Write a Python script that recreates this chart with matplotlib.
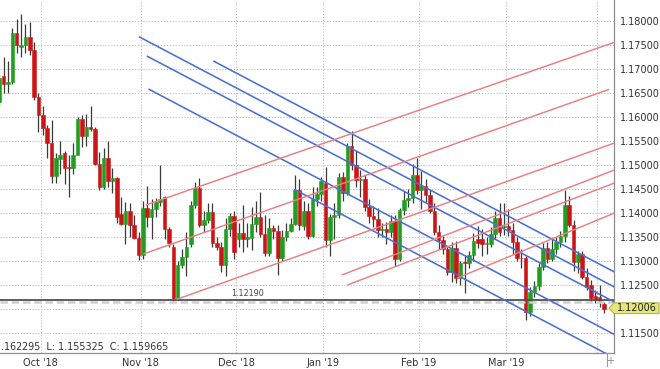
import matplotlib
matplotlib.use('Agg')
import matplotlib.pyplot as plt
from matplotlib.patches import Polygon
import numpy as np

# ---------------- data ----------------
opens = [1.1632, 1.1686, 1.1669, 1.1672, 1.1775, 1.1746, 1.1750, 1.1766, 1.1740, 1.1641,
         1.1604, 1.1578, 1.1546, 1.1478, 1.1512, 1.1525, 1.1496, 1.1494, 1.1521, 1.1596,
         1.1560, 1.1579, 1.1575, 1.1502, 1.1454, 1.1515, 1.1466, 1.1472, 1.1397, 1.1377,
         1.1404, 1.1375, 1.1348, 1.1313, 1.1410, 1.1392, 1.1408, 1.1423, 1.1433, 1.1367,
         1.1330, 1.1222, 1.1292, 1.1308, 1.1335, 1.1417, 1.1452, 1.1375, 1.1385, 1.1402,
         1.1337, 1.1329, 1.1292, 1.1367, 1.1394, 1.1346, 1.1358, 1.1346, 1.1348, 1.1377,
         1.1392, 1.1356, 1.1317, 1.1369, 1.1362, 1.1306, 1.1350, 1.1362, 1.1377, 1.1448,
         1.1372, 1.1405, 1.1353, 1.1430, 1.1440, 1.1462, 1.1343, 1.1392, 1.1395, 1.1474,
         1.1442, 1.1540, 1.1501, 1.1468, 1.1470, 1.1412, 1.1394, 1.1388, 1.1364, 1.1367,
         1.1361, 1.1383, 1.1305, 1.1406, 1.1428, 1.1432, 1.1480, 1.1448, 1.1456, 1.1437,
         1.1405, 1.1361, 1.1343, 1.1325, 1.1278, 1.1327, 1.1265, 1.1298, 1.1295, 1.1313,
         1.1345, 1.1345, 1.1335, 1.1335, 1.1356, 1.1389, 1.1371, 1.1372, 1.1364, 1.1340,
         1.1307, 1.1306, 1.1193, 1.1235, 1.1247, 1.1288, 1.1328, 1.1305, 1.1325, 1.1340,
         1.1352, 1.1416, 1.1375, 1.1298, 1.1314, 1.1266, 1.1250, 1.1227, 1.1224, 1.1210]
highs = [1.1690, 1.1724, 1.1717, 1.1785, 1.1804, 1.1815, 1.1794, 1.1797, 1.1757, 1.1650,
         1.1623, 1.1584, 1.1594, 1.1525, 1.1550, 1.1530, 1.1520, 1.1546, 1.1600, 1.1604,
         1.1606, 1.1623, 1.1580, 1.1527, 1.1535, 1.1550, 1.1494, 1.1476, 1.1433, 1.1423,
         1.1420, 1.1395, 1.1360, 1.1425, 1.1456, 1.1430, 1.1432, 1.1500, 1.1436, 1.1370,
         1.1335, 1.1300, 1.1325, 1.1360, 1.1425, 1.1465, 1.1473, 1.1405, 1.1420, 1.1420,
         1.1350, 1.1340, 1.1390, 1.1400, 1.1405, 1.1380, 1.1417, 1.1380, 1.1412, 1.1425,
         1.1444, 1.1395, 1.1390, 1.1375, 1.1375, 1.1365, 1.1380, 1.1390, 1.1480, 1.1470,
         1.1425, 1.1420, 1.1455, 1.1455, 1.1475, 1.1495, 1.1398, 1.1420, 1.1484, 1.1486,
         1.1545, 1.1570, 1.1530, 1.1490, 1.1480, 1.1430, 1.1415, 1.1410, 1.1380, 1.1382,
         1.1395, 1.1395, 1.1410, 1.1445, 1.1450, 1.1502, 1.1514, 1.1488, 1.1470, 1.1447,
         1.1420, 1.1375, 1.1352, 1.1330, 1.1340, 1.1341, 1.1300, 1.1310, 1.1320, 1.1358,
         1.1372, 1.1367, 1.1350, 1.1370, 1.1405, 1.1420, 1.1420, 1.1408, 1.1380, 1.1350,
         1.1325, 1.1310, 1.1245, 1.1258, 1.1295, 1.1338, 1.1340, 1.1345, 1.1350, 1.1362,
         1.1448, 1.1435, 1.1385, 1.1320, 1.1320, 1.1285, 1.1260, 1.1240, 1.1250, 1.1215]
lows = [1.1625, 1.1650, 1.1650, 1.1668, 1.1733, 1.1725, 1.1733, 1.1729, 1.1636, 1.1569,
        1.1562, 1.1514, 1.1463, 1.1463, 1.1481, 1.1460, 1.1433, 1.1481, 1.1521, 1.1538,
        1.1540, 1.1570, 1.1500, 1.1448, 1.1450, 1.1455, 1.1442, 1.1379, 1.1375, 1.1335,
        1.1350, 1.1345, 1.1302, 1.1305, 1.1370, 1.1345, 1.1392, 1.1415, 1.1345, 1.1330,
        1.1216, 1.1218, 1.1285, 1.1269, 1.1330, 1.1410, 1.1370, 1.1360, 1.1380, 1.1330,
        1.1322, 1.1277, 1.1269, 1.1352, 1.1305, 1.1330, 1.1319, 1.1330, 1.1323, 1.1360,
        1.1350, 1.1310, 1.1310, 1.1345, 1.1271, 1.1300, 1.1342, 1.1360, 1.1375, 1.1365,
        1.1365, 1.1345, 1.1350, 1.1415, 1.1425, 1.1330, 1.1310, 1.1345, 1.1390, 1.1425,
        1.1438, 1.1490, 1.1455, 1.1434, 1.1405, 1.1380, 1.1370, 1.1350, 1.1350, 1.1335,
        1.1350, 1.1290, 1.1300, 1.1395, 1.1412, 1.1420, 1.1440, 1.1409, 1.1423, 1.1400,
        1.1355, 1.1325, 1.1315, 1.1270, 1.1257, 1.1255, 1.1249, 1.1234, 1.1285, 1.1300,
        1.1328, 1.1310, 1.1315, 1.1330, 1.1345, 1.1352, 1.1355, 1.1352, 1.1315, 1.1300,
        1.1285, 1.1177, 1.1185, 1.1225, 1.1240, 1.1282, 1.1295, 1.1300, 1.1315, 1.1330,
        1.1340, 1.1370, 1.1280, 1.1275, 1.1262, 1.1240, 1.1215, 1.1212, 1.1205, 1.1192]
closes = [1.1681, 1.1669, 1.1672, 1.1776, 1.1750, 1.1749, 1.1766, 1.1740, 1.1641, 1.1604,
          1.1578, 1.1546, 1.1478, 1.1515, 1.1521, 1.1494, 1.1494, 1.1521, 1.1596, 1.1560,
          1.1579, 1.1575, 1.1502, 1.1454, 1.1515, 1.1466, 1.1472, 1.1392, 1.1377, 1.1404,
          1.1375, 1.1348, 1.1313, 1.1410, 1.1392, 1.1408, 1.1423, 1.1430, 1.1367, 1.1337,
          1.1222, 1.1292, 1.1308, 1.1329, 1.1417, 1.1452, 1.1375, 1.1385, 1.1402, 1.1337,
          1.1329, 1.1292, 1.1367, 1.1394, 1.1319, 1.1358, 1.1346, 1.1350, 1.1377, 1.1392,
          1.1356, 1.1317, 1.1369, 1.1362, 1.1306, 1.1350, 1.1362, 1.1377, 1.1448, 1.1375,
          1.1405, 1.1353, 1.1430, 1.1440, 1.1467, 1.1343, 1.1392, 1.1395, 1.1474, 1.1442,
          1.1540, 1.1501, 1.1468, 1.1470, 1.1412, 1.1394, 1.1388, 1.1364, 1.1367, 1.1361,
          1.1383, 1.1305, 1.1406, 1.1428, 1.1432, 1.1480, 1.1448, 1.1456, 1.1437, 1.1405,
          1.1361, 1.1343, 1.1325, 1.1278, 1.1327, 1.1265, 1.1295, 1.1295, 1.1313, 1.1341,
          1.1338, 1.1335, 1.1337, 1.1356, 1.1389, 1.1361, 1.1372, 1.1364, 1.1340, 1.1307,
          1.1306, 1.1193, 1.1235, 1.1247, 1.1288, 1.1328, 1.1305, 1.1325, 1.1340, 1.1352,
          1.1416, 1.1375, 1.1298, 1.1314, 1.1267, 1.1246, 1.1223, 1.1219, 1.1214, 1.12006]

month_labels = ["Oct '18", "Nov '18", "Dec '18", "Jan '19", "Feb '19", "Mar '19", ""]
month_start_idx = [10, 33, 55, 75, 97, 117, 138]
price_ticks = [1.115, 1.120, 1.125, 1.130, 1.135, 1.140, 1.145, 1.150, 1.155,
               1.160, 1.165, 1.170, 1.175, 1.180]

# trend lines: (start index, start price, end index, end price)
blue_lines = [(49.2, 1.17167, 141.4, 1.12771),
              (32.1, 1.17673, 141.4, 1.12458),
              (33.9, 1.17271, 141.4, 1.12146),
              (34.3, 1.16583, 141.4, 1.11469),
              (67.8, 1.14494, 142.0, 1.10951)]
red_lines = [(33.72, 1.14167, 141.4, 1.17556),
             (33.10, 1.13146, 140.2, 1.16577),
             (40.78, 1.12202, 141.4, 1.15458),
             (78.70, 1.12708, 141.4, 1.14896),
             (80.00, 1.12500, 141.4, 1.14625),
             (105.15, 1.12640, 141.4, 1.14000)]

level_price = 1.12190
last_price = 1.12006
info_text = ".162295  L: 1.155325  C: 1.159665"

# ---------------- figure ----------------
W, H = 660, 369
fig = plt.figure(figsize=(W / 100, H / 100), dpi=100)
fig.patch.set_facecolor('white')
ax_w = 614 / W
ax_b = (H - 352.7) / H
ax = fig.add_axes([0, ax_b, ax_w, 1 - ax_b])
ax.set_facecolor('white')

ax.set_xlim(0.16, 141.3)
ax.set_ylim(1.11090, 1.184375)

# grid
grid_kw = dict(color='#b8b8b8', lw=0.7, ls=(0, (1.2, 1.8)), zorder=0)
for p in price_ticks:
    ax.axhline(p, **grid_kw)
for m in month_start_idx:
    ax.axvline(m - 0.5, **grid_kw)

# candles
idx = np.arange(len(opens))
o = np.array(opens); h = np.array(highs); l = np.array(lows); c = np.array(closes)
up = c >= o
green, red = '#1f9e1f', '#cc1517'
ax.vlines(idx, l, h, color='#3a3a3a', lw=0.9, zorder=2)
body = np.where(np.abs(c - o) < 0.00012, 0.00012 * np.where(up, 1, -1), c - o)
cols = np.where(up, green, red)
ax.bar(idx, body, bottom=o, width=0.82, color=cols, edgecolor=cols, lw=0.4, zorder=3)

# horizontal level
ax.axhline(level_price - 0.00045, color='#cfcfcf', lw=1.8, ls=(0, (3, 1.5)), zorder=4)
ax.axhline(level_price, color='#505050', lw=1.3, zorder=4)
ax.text(57, level_price + 0.0003, f"{level_price:.5f}", fontsize=5.8,
        color='#444444', va='bottom', ha='center', zorder=6)

# trend lines
for x0, y0, x1, y1 in blue_lines:
    ax.plot([x0, x1], [y0, y1], color='#4a6fd6', lw=1.15, zorder=5,
            solid_capstyle='butt')
for x0, y0, x1, y1 in red_lines:
    ax.plot([x0, x1], [y0, y1], color='#ea7f80', lw=1.05, zorder=5,
            solid_capstyle='butt')

# axes styling
for s in ['left', 'top']:
    ax.spines[s].set_visible(False)
ax.spines['right'].set_color('#8c8c8c')
ax.spines['bottom'].set_color('#8c8c8c')
ax.spines['right'].set_linewidth(0.9)
ax.spines['bottom'].set_linewidth(0.9)

ax.yaxis.tick_right()
ax.set_yticks(price_ticks)
# the 1.12000 label is hidden under the last-price tag
ax.set_yticklabels(["" if abs(p - 1.120) < 1e-9 else f"{p:.5f}" for p in price_ticks])
ax.tick_params(axis='y', length=0, pad=4.5, labelsize=7, labelcolor='#333333')
ax.set_xticks([m - 0.5 for m in month_start_idx])
ax.set_xticklabels(month_labels)
ax.tick_params(axis='x', length=0, pad=3.5, labelsize=7, labelcolor='#333333')

# partially visible top label
fig.text(619 / W, 1 + 3 / H, "1.18500", fontsize=7, color='#333333',
         va='center', ha='left')

# info text bottom-left
ax.text(0.002, 6.0 / 352.7, info_text, transform=ax.transAxes, fontsize=6.9,
        color='#333333', va='center', ha='left', zorder=6)

# last price tag
ty = 1 - 308.2 / H
tag = Polygon([(609 / W, ty), (614 / W, 1 - 302.8 / H), (659 / W, 1 - 302.8 / H),
               (659 / W, 1 - 313.6 / H), (614 / W, 1 - 313.6 / H)],
              closed=True, transform=fig.transFigure, facecolor='#e6e67a',
              edgecolor='#a8a84a', lw=0.7)
fig.patches.append(tag)
fig.text(617 / W, ty, f"{last_price:.5f}", fontsize=7, color='#222222',
         va='center', ha='left')

# bottom-right marks
fig.add_artist(plt.Line2D([606.7 / W, 606.7 / W], [1 - 353 / H, 1 - 366 / H],
                          transform=fig.transFigure, color='#9a9a9a', lw=0.8))
fig.text(610 / W, 1 - 361 / H, "+", fontsize=7, color='#888888',
         va='center', ha='center')

fig.savefig('out.png', dpi=100)
